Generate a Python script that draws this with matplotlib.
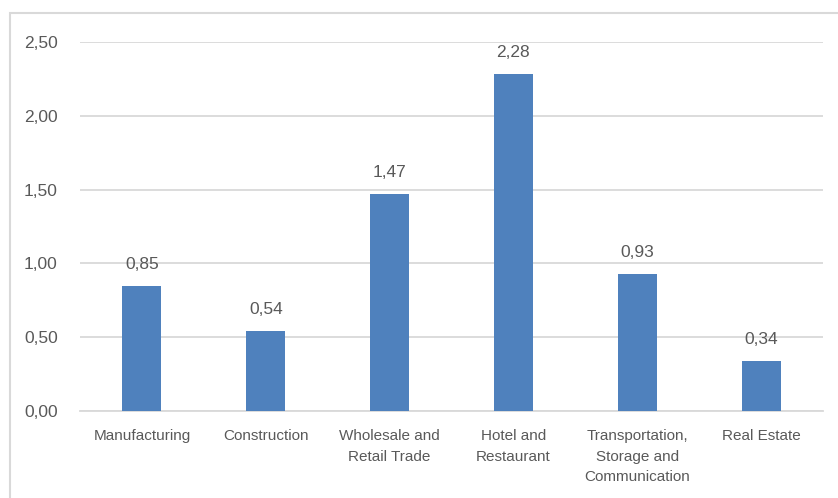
import matplotlib.pyplot as plt
from matplotlib.patches import Rectangle
from matplotlib.ticker import FuncFormatter

categories = ['Manufacturing', 'Construction', 'Wholesale and\nRetail Trade',
              'Hotel and\nRestaurant', 'Transportation,\nStorage and\nCommunication',
              'Real Estate']
values = [0.85, 0.54, 1.47, 2.28, 0.93, 0.34]
yticks = [0, 0.5, 1.0, 1.5, 2.0, 2.5]

plt.rcParams['font.family'] = ['Liberation Sans', 'DejaVu Sans']
text_color = '#595959'
grid_color = '#D9D9D9'

fig = plt.figure(figsize=(8.38, 4.98), dpi=100)
ax = fig.add_axes([0.0955, 0.1747, 0.8865, 0.741])

# chart border (cropped on right and bottom)
fig.patches.append(Rectangle((10 / 838, -0.1), 1.1, 1 - 13 / 498 + 0.1,
                             transform=fig.transFigure, fill=False,
                             edgecolor=grid_color, linewidth=1.5))

x = range(len(categories))
bars = ax.bar(x, values, width=0.315, color='#4F81BD', zorder=3)
for b, v in zip(bars, values):
    ax.text(b.get_x() + b.get_width() / 2, v + 0.095, f'{v:.2f}'.replace('.', ','),
            ha='center', va='bottom', fontsize=12.5, color=text_color)

ax.set_xlim(-0.5, len(categories) - 0.5)
ax.set_ylim(0, 2.5)
ax.set_yticks(yticks)
ax.yaxis.set_major_formatter(FuncFormatter(lambda v, p: f'{v:.2f}'.replace('.', ',')))
ax.set_xticks(list(x))
ax.set_xticklabels(categories, fontsize=11, color=text_color, linespacing=1.6)
ax.tick_params(axis='y', labelsize=12.5, labelcolor=text_color, length=0, pad=16)
ax.tick_params(axis='x', length=0, pad=13)
ax.grid(axis='y', color=grid_color, linewidth=1.3, zorder=0)
for s in ['top', 'right', 'left']:
    ax.spines[s].set_visible(False)
ax.spines['bottom'].set_color(grid_color)
ax.spines['bottom'].set_linewidth(1.3)

fig.savefig('out.png', dpi=100)
